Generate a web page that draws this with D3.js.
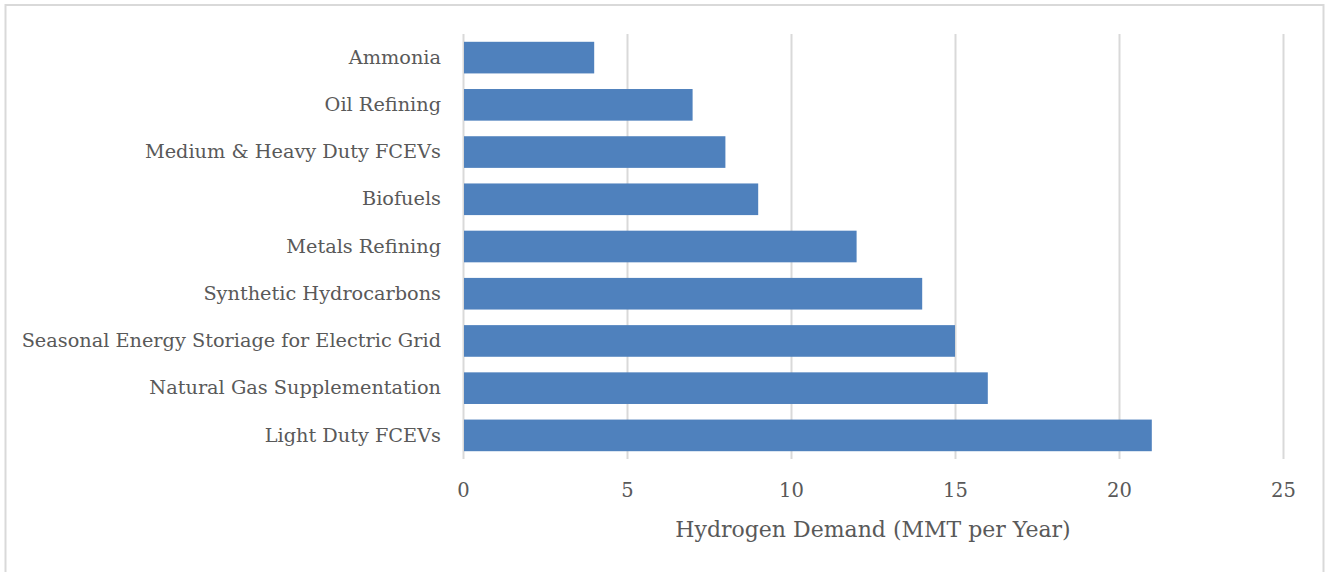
<!DOCTYPE html>
<html>
<head>
<meta charset="utf-8">
<script src="https://cdn.jsdelivr.net/npm/d3@7"></script>
<style>
  html, body { margin: 0; padding: 0; background: #fff; overflow: hidden; }
  svg { display: block; }
</style>
</head>
<body>
<div id="chart"></div>
<script>
// categories top to bottom, values in MMT per year
var categories = [
    "Ammonia",
    "Oil Refining",
    "Medium & Heavy Duty FCEVs",
    "Biofuels",
    "Metals Refining",
    "Synthetic Hydrocarbons",
    "Seasonal Energy Storiage for Electric Grid",
    "Natural Gas Supplementation",
    "Light Duty FCEVs"
];
var demand = [4, 7, 8, 9, 12, 14, 15, 16, 21];
var xTicks = [0, 5, 10, 15, 20, 25];
var xTitle = "Hydrogen Demand (MMT per Year)";

var width = 1326,
    height = 572,
    margin = {top: 34, right: 43, bottom: 113, left: 463},
    font = "'DejaVu Serif', serif",
    textColor = "#595959",
    gridColor = "#d9d9d9",
    barColor = "#4f81bd";

var data = categories.map(function(c, i) {
    return {name: c, value: demand[i]};
});

var svg = d3.select("#chart").append("svg")
    .attr("width", width)
    .attr("height", height);

// chart frame (bottom edge runs off the picture)
svg.append("rect")
    .attr("x", 5.5).attr("y", 5)
    .attr("width", 1318).attr("height", 580)
    .attr("fill", "#fff")
    .attr("stroke", gridColor)
    .attr("stroke-width", 2);

var plotW = width - margin.left - margin.right,
    plotH = height - margin.top - margin.bottom;

var g = svg.append("g")
    .attr("transform", "translate(" + margin.left + "," + margin.top + ")");

var x = d3.scaleLinear().domain([0, 25]).range([0, plotW]);
var y = d3.scaleBand()
    .domain(categories)
    .range([0, plotH])
    .paddingInner(0.33)
    .paddingOuter(0.165);

// vertical gridlines
var grid = g.append("g")
    .attr("transform", "translate(0," + plotH + ")")
    .call(d3.axisBottom(x).tickValues(xTicks).tickSize(-plotH).tickFormat(""));
grid.select(".domain").remove();
grid.selectAll("line")
    .attr("stroke", gridColor)
    .attr("stroke-width", 2);

// bars
g.selectAll(".bar")
    .data(data)
    .enter()
    .append("rect")
    .attr("class", "bar")
    .attr("x", x(0) + 1)
    .attr("y", function(d) { return y(d.name); })
    .attr("width", function(d) { return x(d.value) - x(0) - 1; })
    .attr("height", y.bandwidth())
    .attr("fill", barColor);

// x tick labels
var xAxis = g.append("g")
    .attr("transform", "translate(0," + plotH + ")")
    .call(d3.axisBottom(x).tickValues(xTicks).tickSize(0).tickPadding(24));
xAxis.select(".domain").remove();
xAxis.selectAll("text")
    .attr("fill", textColor)
    .style("font-family", font)
    .style("font-size", "19.5px");

// category labels
var yAxis = g.append("g")
    .call(d3.axisLeft(y).tickSize(0).tickPadding(22));
yAxis.select(".domain").remove();
yAxis.selectAll("text")
    .attr("fill", textColor)
    .style("font-family", font)
    .style("font-size", "19.3px");

// axis title
g.append("text")
    .attr("x", plotW / 2)
    .attr("y", plotH + 78)
    .attr("text-anchor", "middle")
    .attr("fill", textColor)
    .style("font-family", font)
    .style("font-size", "22px")
    .text(xTitle);
</script>
</body>
</html>
